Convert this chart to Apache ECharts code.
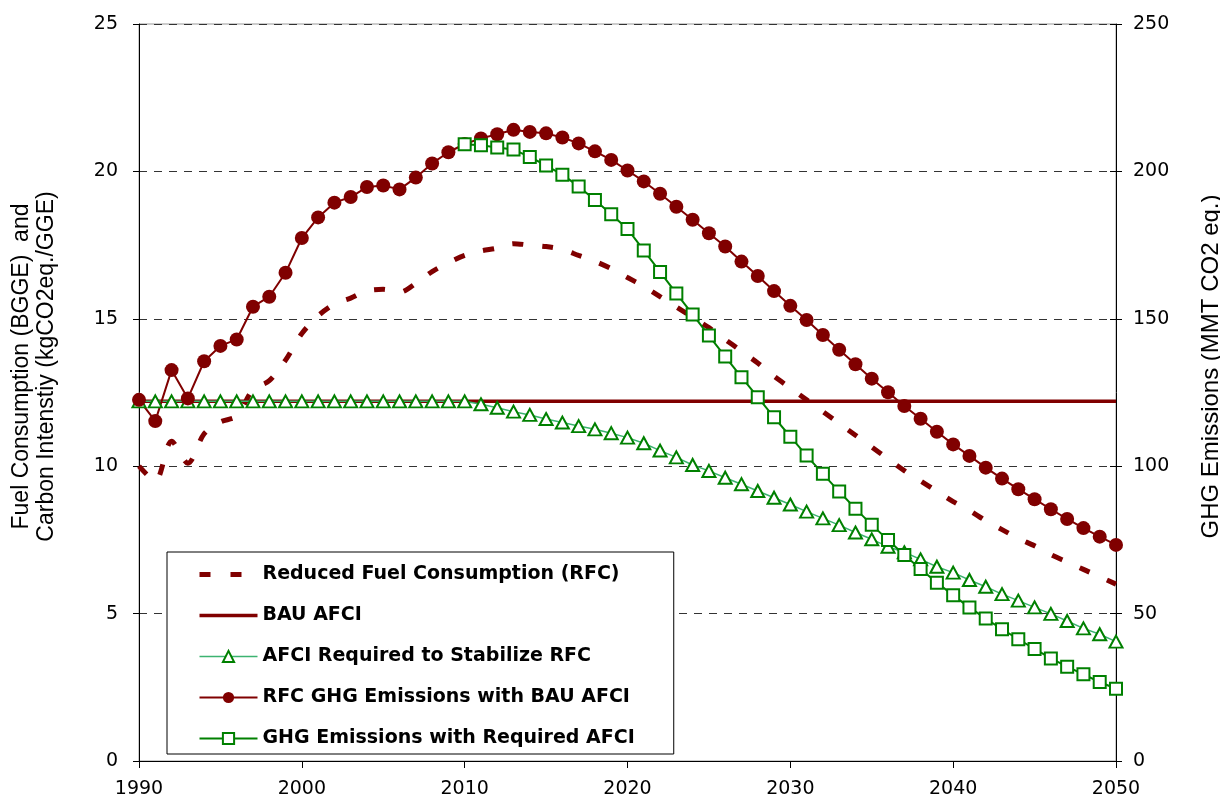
<!DOCTYPE html>
<html>
<head>
<meta charset="utf-8">
<script src="https://cdn.jsdelivr.net/npm/echarts@6/dist/echarts.min.js"></script>
<style>
  html, body { margin: 0; padding: 0; background: #fff; }
  #chart { width: 1220px; height: 805px; }
</style>
</head>
<body>
<div id="chart"></div>
<script>
// Years on the x axis
const years = [
  1990, 1991, 1992, 1993, 1994, 1995, 1996, 1997, 1998, 1999,
  2000, 2001, 2002, 2003, 2004, 2005, 2006, 2007, 2008, 2009,
  2010, 2011, 2012, 2013, 2014, 2015, 2016, 2017, 2018, 2019,
  2020, 2021, 2022, 2023, 2024, 2025, 2026, 2027, 2028, 2029,
  2030, 2031, 2032, 2033, 2034, 2035, 2036, 2037, 2038, 2039,
  2040, 2041, 2042, 2043, 2044, 2045, 2046, 2047, 2048, 2049,
  2050
]

// Reduced Fuel Consumption (BGGE) - left axis
const rfc = [
  10.0, 9.5, 10.85, 10.1, 11.1, 11.5, 11.7, 12.6, 12.9, 13.6,
  14.5, 15.1, 15.5, 15.7, 15.95, 16.0, 15.9, 16.2, 16.6, 16.9,
  17.15, 17.3, 17.4, 17.55, 17.5, 17.45, 17.35, 17.15, 16.95, 16.7,
  16.4, 16.1, 15.75, 15.4, 15.05, 14.7, 14.3, 13.9, 13.5, 13.05,
  12.65, 12.25, 11.85, 11.45, 11.05, 10.65, 10.25, 9.85, 9.5, 9.15,
  8.8, 8.5, 8.15, 7.85, 7.55, 7.3, 7.0, 6.75, 6.5, 6.25,
  6.0
]

// BAU AFCI (kgCO2eq./GGE) - left axis
const bauAfci = [
  12.2, 12.2, 12.2, 12.2, 12.2, 12.2, 12.2, 12.2, 12.2, 12.2,
  12.2, 12.2, 12.2, 12.2, 12.2, 12.2, 12.2, 12.2, 12.2, 12.2,
  12.2, 12.2, 12.2, 12.2, 12.2, 12.2, 12.2, 12.2, 12.2, 12.2,
  12.2, 12.2, 12.2, 12.2, 12.2, 12.2, 12.2, 12.2, 12.2, 12.2,
  12.2, 12.2, 12.2, 12.2, 12.2, 12.2, 12.2, 12.2, 12.2, 12.2,
  12.2, 12.2, 12.2, 12.2, 12.2, 12.2, 12.2, 12.2, 12.2, 12.2,
  12.2
]

// AFCI required to stabilize RFC - left axis
const afciRequired = [
  12.2, 12.2, 12.2, 12.2, 12.2, 12.2, 12.2, 12.2, 12.2, 12.2,
  12.2, 12.2, 12.2, 12.2, 12.2, 12.2, 12.2, 12.2, 12.2, 12.2,
  12.2, 12.1, 11.98, 11.85, 11.74, 11.6, 11.48, 11.36, 11.25, 11.12,
  10.97, 10.78, 10.53, 10.3, 10.04, 9.84, 9.61, 9.39, 9.16, 8.93,
  8.7, 8.46, 8.23, 8.0, 7.75, 7.52, 7.27, 7.08, 6.84, 6.59,
  6.39, 6.14, 5.91, 5.66, 5.44, 5.21, 4.99, 4.75, 4.5, 4.3,
  4.05
]

// RFC GHG emissions with BAU AFCI (MMT CO2 eq.) - right axis
const ghgBau = [
  122.5, 115.3, 132.6, 123.0, 135.6, 140.8, 143.0, 154.1, 157.5, 165.6,
  177.4, 184.4, 189.4, 191.3, 194.7, 195.2, 193.9, 197.9, 202.7, 206.5,
  209.3, 211.2, 212.6, 214.1, 213.4, 212.9, 211.5, 209.5, 206.8, 203.9,
  200.3, 196.6, 192.4, 188.0, 183.6, 179.0, 174.5, 169.4, 164.5, 159.4,
  154.4, 149.6, 144.5, 139.5, 134.6, 129.7, 125.1, 120.4, 116.1, 111.7,
  107.4, 103.5, 99.5, 95.8, 92.2, 88.8, 85.4, 82.1, 79.0, 76.1,
  73.3
]

// GHG emissions with required AFCI (MMT CO2 eq.) - right axis, from 2010
const ghgRequired = [
  null, null, null, null, null, null, null, null, null, null,
  null, null, null, null, null, null, null, null, null, null,
  209.2, 208.9, 208.1, 207.4, 204.9, 202.0, 198.9, 194.9, 190.3, 185.5,
  180.5, 173.2, 165.9, 158.6, 151.5, 144.3, 137.2, 130.2, 123.4, 116.6,
  110.0, 103.6, 97.4, 91.4, 85.6, 80.1, 75.0, 69.9, 65.1, 60.5,
  56.2, 52.1, 48.3, 44.7, 41.3, 38.0, 34.8, 32.0, 29.4, 26.8,
  24.5
]

const pairs = (vals) => years.map((y, i) => [y, vals[i]])

const chart = echarts.init(document.getElementById('chart'))

const tickFont = { fontFamily: 'DejaVu Sans', fontSize: 19, color: '#000' }
const nameFamily = "'Liberation Sans Narrow', 'Liberation Sans', Arial, sans-serif"

const option = {
  animation: false,
  backgroundColor: '#fff',
  grid: {
    left: 139, right: 104, top: 24, bottom: 44,
    outerBoundsMode: 'none',
    containLabel: false,
    show: true, borderColor: '#999', borderWidth: 1
  },
  legend: {
    orient: 'vertical',
    left: 167,
    top: 552,
    itemWidth: 58,
    itemHeight: 14,
    itemGap: 22,
    padding: [13, 39, 6, 30],
    backgroundColor: '#fff',
    borderColor: '#000',
    borderWidth: 1,
    textStyle: { fontFamily: 'DejaVu Sans', fontSize: 19, fontWeight: 'bold', color: '#000' },
    data: [
      {
        name: 'Reduced Fuel Consumption (RFC)',
        itemStyle: { opacity: 0 },
        lineStyle: { color: '#800000', width: 5, type: [11, 20] }
      },
      {
        name: 'BAU AFCI',
        itemStyle: { opacity: 0 },
        lineStyle: { color: '#800000', width: 3.5 }
      },
      {
        name: 'AFCI Required to Stabilize RFC',
        lineStyle: { color: '#3cb371', width: 1.5 }
      },
      {
        name: 'RFC GHG Emissions with BAU AFCI',
        lineStyle: { color: '#800000', width: 2 }
      },
      {
        name: 'GHG Emissions with Required AFCI',
        lineStyle: { color: '#008000', width: 2 }
      }
    ]
  },
  xAxis: {
    type: 'value',
    min: 1990,
    max: 2050,
    interval: 10,
    axisLine: { lineStyle: { color: '#000', width: 1 } },
    axisTick: { length: 7, lineStyle: { color: '#000' } },
    axisLabel: Object.assign({ margin: 19, formatter: (v) => String(v) }, tickFont),
    splitLine: { show: false }
  },
  yAxis: [
    {
      type: 'value',
      position: 'left',
      min: 0,
      max: 25,
      interval: 5,
      name: 'Fuel Consumption (BGGE)  and\nCarbon Intenstiy (kgCO2eq./GGE)',
      nameLocation: 'middle',
      nameRotate: 90,
      nameGap: 80,
      nameTextStyle: {
        fontFamily: nameFamily, fontSize: 23, color: '#000', lineHeight: 25,
        padding: [0, 0, 0, 52]   // nudges the rotated title upward
      },
      axisLine: { show: true, lineStyle: { color: '#000', width: 1 } },
      axisTick: { show: true, length: 6, lineStyle: { color: '#000' } },
      axisLabel: Object.assign({ margin: 21 }, tickFont),
      splitLine: { show: true, lineStyle: { color: '#333', type: [8, 7], width: 1 } }
    },
    {
      type: 'value',
      position: 'right',
      min: 0,
      max: 250,
      interval: 50,
      name: 'GHG Emissions (MMT CO2 eq.)',
      nameLocation: 'middle',
      nameRotate: 90,
      nameGap: 83,
      nameTextStyle: {
        fontFamily: nameFamily, fontSize: 24, color: '#000',
        padding: [0, 0, 0, 52]
      },
      axisLine: { show: true, lineStyle: { color: '#000', width: 1 } },
      axisTick: { show: true, length: 6, lineStyle: { color: '#000' } },
      axisLabel: Object.assign({ margin: 17 }, tickFont),
      splitLine: { show: false }
    },
    {
      // inner half of the crossing ticks on the right axis
      type: 'value',
      position: 'right',
      min: 0,
      max: 250,
      interval: 50,
      axisLine: { show: false },
      axisTick: { show: true, inside: true, length: 6, lineStyle: { color: '#000' } },
      axisLabel: { show: false },
      splitLine: { show: false }
    }
  ],
  series: [
    {
      name: 'Reduced Fuel Consumption (RFC)',
      type: 'line',
      yAxisIndex: 0,
      data: pairs(rfc),
      symbol: 'none',
      smooth: 0.3,
      lineStyle: { color: '#800000', width: 5, type: [11, 19] },
      itemStyle: { color: '#800000' }
    },
    {
      name: 'BAU AFCI',
      type: 'line',
      yAxisIndex: 0,
      data: pairs(bauAfci),
      symbol: 'none',
      lineStyle: { color: '#800000', width: 3.5 },
      itemStyle: { color: '#800000' }
    },
    {
      name: 'AFCI Required to Stabilize RFC',
      type: 'line',
      yAxisIndex: 0,
      data: pairs(afciRequired),
      symbol: 'triangle',
      symbolSize: [13, 12],
      lineStyle: { color: '#3cb371', width: 1.5 },
      itemStyle: { color: '#fff', borderColor: '#008000', borderWidth: 2 }
    },
    {
      name: 'RFC GHG Emissions with BAU AFCI',
      type: 'line',
      yAxisIndex: 1,
      data: pairs(ghgBau),
      symbol: 'circle',
      symbolSize: 14,
      lineStyle: { color: '#800000', width: 2 },
      itemStyle: { color: '#800000' }
    },
    {
      name: 'GHG Emissions with Required AFCI',
      type: 'line',
      yAxisIndex: 1,
      data: pairs(ghgRequired),
      symbol: 'rect',
      symbolSize: 12,
      lineStyle: { color: '#008000', width: 2 },
      itemStyle: { color: '#fff', borderColor: '#008000', borderWidth: 2 }
    }
  ]
}

chart.setOption(option)
</script>
</body>
</html>
